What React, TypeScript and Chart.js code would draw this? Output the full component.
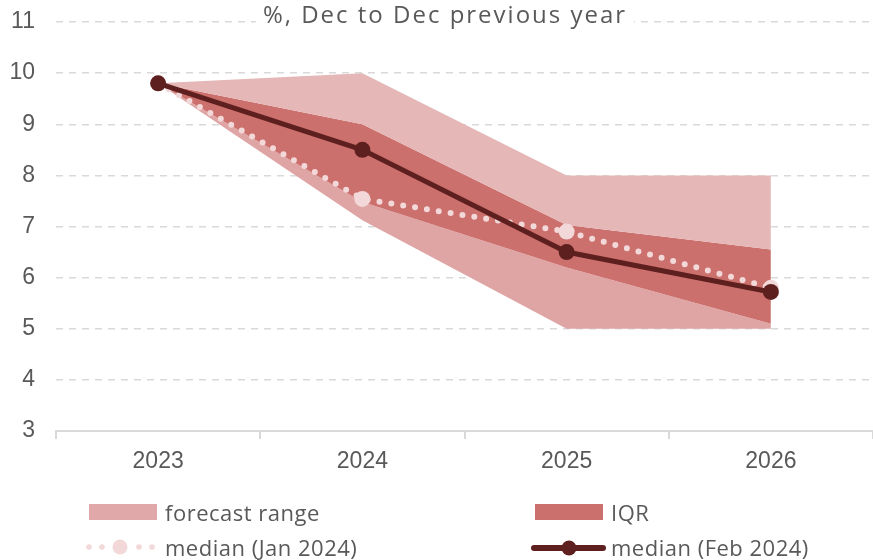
import React, { useEffect, useRef } from "react";
import { Chart, registerables } from "chart.js";

Chart.register(...registerables);

const years = ["2023", "2024", "2025", "2026"];
const rangeMax = [9.8, 10.0, 8.0, 8.0];
const iqrHigh = [9.8, 9.0, 7.03, 6.55];
const iqrLow = [9.8, 7.48, 6.2, 5.1];
const rangeMin = [9.8, 7.12, 5.0, 5.0];
const medianJan = [9.8, 7.54, 6.9, 5.8];
const medianFeb = [9.8, 8.5, 6.5, 5.72];
const yMin = 3;
const yMax = 11;

const titleText = "%, Dec to Dec previous year";
const legendLabels = ["forecast range", "IQR", "median (Jan 2024)", "median (Feb 2024)"];

const C_UPPER = "#e5b7b7";
const C_LOWER = "#dfa5a5";
const C_RANGE = "#e0a8a8";
const C_IQR = "#cc706d";
const C_JAN = "#f2d8d8";
const C_FEB = "#5e1f1f";
const GRID = "#d9d9d9";
const TEXT = "#595959";
const LEG_FONT = "'Open Sans', Lato, sans-serif";
const AX_FONT = "'Liberation Sans', Arial, sans-serif";

export default function App() {
  const ref = useRef<HTMLCanvasElement | null>(null);

  useEffect(() => {
    if (!ref.current) return;
    const chart = new Chart(ref.current, {
      type: "line",
      data: {
        labels: years,
        datasets: [
          {
            label: legendLabels[3],
            data: medianFeb,
            borderColor: C_FEB,
            backgroundColor: C_FEB,
            borderWidth: 5,
            pointRadius: 8,
            pointBorderWidth: 0,
            pointBackgroundColor: C_FEB,
            fill: false,
            tension: 0,
          },
          {
            label: legendLabels[2],
            data: medianJan,
            borderColor: C_JAN,
            backgroundColor: C_JAN,
            borderWidth: 6,
            borderDash: [0, 12],
            borderCapStyle: "round",
            pointRadius: 8,
            pointBorderWidth: 0,
            pointBackgroundColor: C_JAN,
            fill: false,
            tension: 0,
          },
          {
            label: "max",
            data: rangeMax,
            borderWidth: 0,
            pointRadius: 0,
            backgroundColor: C_UPPER,
            fill: 3,
            tension: 0,
          },
          {
            label: "q3",
            data: iqrHigh,
            borderWidth: 0,
            pointRadius: 0,
            backgroundColor: C_IQR,
            fill: 4,
            tension: 0,
          },
          {
            label: "q1",
            data: iqrLow,
            borderWidth: 0,
            pointRadius: 0,
            backgroundColor: C_LOWER,
            fill: 5,
            tension: 0,
          },
          {
            label: "min",
            data: rangeMin,
            borderWidth: 0,
            pointRadius: 0,
            backgroundColor: "rgba(0,0,0,0)",
            fill: false,
            tension: 0,
          },
        ],
      },
      options: {
        animation: false,
        responsive: false,
        maintainAspectRatio: false,
        layout: { padding: { top: 22, right: 1, left: 0, bottom: 0 } },
        plugins: {
          legend: { display: false },
          tooltip: { enabled: false },
          title: { display: false },
        },
        scales: {
          x: {
            type: "category",
            offset: true,
            grid: {
              offset: true,
              drawOnChartArea: false,
              drawTicks: true,
              tickLength: 8,
              color: GRID,
              lineWidth: 2,
            },
            border: { display: true, color: GRID, width: 2 },
            ticks: {
              color: TEXT,
              padding: 9,
              font: { family: AX_FONT, size: 23 },
            },
            afterFit: (s: any) => {
              s.height = 129;
              s.paddingLeft = 0;
              s.paddingRight = 0;
            },
          },
          y: {
            min: yMin,
            max: yMax,
            ticks: {
              stepSize: 1,
              color: TEXT,
              padding: 21,
              font: { family: AX_FONT, size: 23 },
            },
            grid: {
              drawTicks: false,
              color: (ctx: any) => (ctx.tick && ctx.tick.value === yMin ? "rgba(0,0,0,0)" : GRID),
              lineWidth: 1.5,
            },
            border: { display: false, dash: [7, 6] },
            afterFit: (s: any) => {
              s.width = 56;
              s.paddingTop = 0;
              s.paddingBottom = 0;
            },
          },
        },
      },
    });
    return () => chart.destroy();
  }, []);

  const legText: React.CSSProperties = {
    position: "absolute",
    fontFamily: LEG_FONT,
    fontSize: 22,
    letterSpacing: "0.5px",
    color: TEXT,
    lineHeight: "24px",
    whiteSpace: "nowrap",
  };

  return (
    <div style={{ position: "absolute", left: 0, top: 0, width: 873, height: 560, background: "#fff", overflow: "hidden" }}>
      <canvas ref={ref} width={881} height={560} style={{ position: "absolute", left: 0, top: 0, width: 881, height: 560 }} />
      <div
        style={{
          position: "absolute",
          left: 445,
          top: 0,
          transform: "translateX(-50%)",
          background: "#fff",
          padding: "0 7px",
          fontFamily: LEG_FONT,
          fontSize: 24,
          letterSpacing: "2px",
          lineHeight: "27px",
          color: TEXT,
          whiteSpace: "nowrap",
        }}
      >
        {titleText}
      </div>
      {/* legend row 1 */}
      <div style={{ position: "absolute", left: 89, top: 504, width: 68, height: 16, background: C_RANGE }} />
      <div style={{ ...legText, left: 165, top: 500 }}>{legendLabels[0]}</div>
      <div style={{ position: "absolute", left: 535, top: 504, width: 68, height: 16, background: C_IQR }} />
      <div style={{ ...legText, left: 611, top: 500 }}>{legendLabels[1]}</div>
      {/* legend row 2 */}
      <svg style={{ position: "absolute", left: 80, top: 535 }} width={84} height={24}>
        <circle cx={9} cy={12} r={2.8} fill={C_JAN} />
        <circle cx={22} cy={12} r={2.8} fill={C_JAN} />
        <circle cx={40} cy={12} r={7.5} fill={C_JAN} />
        <circle cx={59} cy={12} r={2.8} fill={C_JAN} />
        <circle cx={72} cy={12} r={2.8} fill={C_JAN} />
      </svg>
      <div style={{ ...legText, left: 165, top: 535 }}>{legendLabels[2]}</div>
      <svg style={{ position: "absolute", left: 528, top: 535 }} width={82} height={24}>
        <line x1={6} y1={13} x2={75} y2={13} stroke={C_FEB} strokeWidth={6} strokeLinecap="round" />
        <circle cx={41} cy={13} r={7.5} fill={C_FEB} />
      </svg>
      <div style={{ ...legText, left: 611, top: 535 }}>{legendLabels[3]}</div>
    </div>
  );
}
